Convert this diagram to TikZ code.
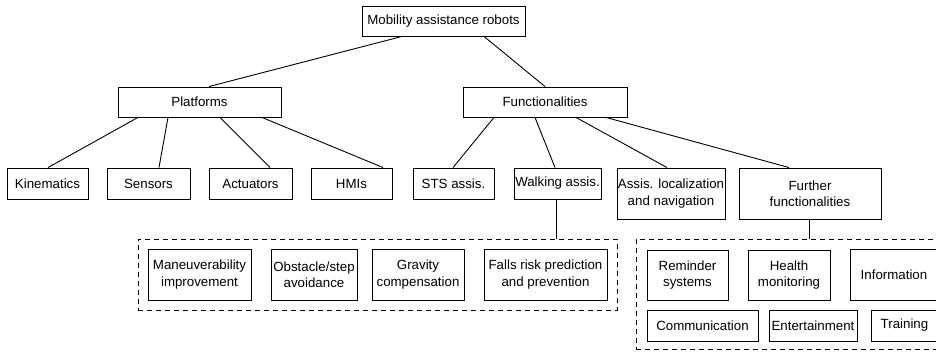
\documentclass[tikz,border=0pt]{standalone}
\usepackage{fontspec}
\setmainfont{Liberation Sans}
\begin{document}
\begin{tikzpicture}[x=1pt,y=-1pt,
  box/.style={draw, line width=0.9pt, inner sep=0pt, align=center,
    font=\fontsize{13.3}{16.5}\selectfont},
  group/.style={draw, dashed, dash pattern=on 5pt off 4pt, line width=0.9pt, inner sep=0pt},
  link/.style={line width=0.9pt}]
\useasboundingbox (0,0) rectangle (936,352);
\clip (0,0) rectangle (936,352);

% root and first level
\node[box, minimum width=163, minimum height=30] (mob) at (443.5,21) {Mobility assistance robots};
\node[box, minimum width=163, minimum height=30] (plat) at (199.5,102) {Platforms};
\node[box, minimum width=164, minimum height=30] (func) at (545,102) {Functionalities};

% platform components
\node[box, minimum width=81, minimum height=31] (kin) at (47.5,183.5) {Kinematics};
\node[box, minimum width=83, minimum height=31] (sen) at (148.5,183.5) {Sensors};
\node[box, minimum width=83, minimum height=31] (act) at (250.5,183.5) {Actuators};
\node[box, minimum width=81, minimum height=31] (hmi) at (351.5,183.5) {HMIs};

% functionalities
\node[box, minimum width=81, minimum height=31] (sts) at (453.5,183.5) {STS assis.};
\node[box, minimum width=87, minimum height=31] (walk) at (557.5,183.5) {Walking assis.};
\node[box, minimum width=108, minimum height=51] (loc) at (671,193.5) {Assis. localization\\and navigation};
\node[box, minimum width=142, minimum height=51] (fur) at (810,193.5) {Further\\functionalities};

% walking assistance group
\node[group, minimum width=479, minimum height=71] (grpA) at (377.5,274.5) {};
\node[box, minimum width=103, minimum height=51] (man) at (199.5,274.5) {Maneuverability\\improvement};
\node[box, minimum width=86, minimum height=51] (obs) at (314,274.5) {Obstacle/step\\avoidance};
\node[box, minimum width=92, minimum height=51] (grav) at (418,274.5) {Gravity\\compensation};
\node[box, minimum width=123, minimum height=51] (fall) at (545.5,274.5) {Falls risk prediction\\and prevention};

% further functionalities group
\node[group, minimum width=314, minimum height=110] (grpB) at (793,294) {};
\node[box, minimum width=81, minimum height=50] (rem) at (687.5,275) {Reminder\\systems};
\node[box, minimum width=82, minimum height=50] (hea) at (789,275) {Health\\monitoring};
\node[box, minimum width=88, minimum height=51] (inf) at (894,275) {Information};
\node[box, minimum width=111, minimum height=31] (com) at (702.5,325.5) {Communication};
\node[box, minimum width=88, minimum height=31] (ent) at (813,325.5) {Entertainment};
\node[box, minimum width=67, minimum height=31] (tra) at (904.5,325.5) {Training};

% connectors
\draw[link] ([xshift=-41.5pt]mob.south) -- ([xshift=9.5pt]plat.north);
\draw[link] ([xshift=40.5pt]mob.south) -- (func.north);
\draw[link] ([xshift=-61.5pt]plat.south) -- ([xshift=0.5pt]kin.north);
\draw[link] ([xshift=-31.5pt]plat.south) -- ([xshift=10.5pt]sen.north);
\draw[link] ([xshift=20.5pt]plat.south) -- ([xshift=19.5pt]act.north);
\draw[link] ([xshift=62.5pt]plat.south) -- ([xshift=31.5pt]hmi.north);
\draw[link] ([xshift=-51pt]func.south) -- ([xshift=-0.5pt]sts.north);
\draw[link] ([xshift=-10pt]func.south) -- ([xshift=-2.5pt]walk.north);
\draw[link] ([xshift=31pt]func.south) -- ([xshift=-4pt]loc.north);
\draw[link] ([xshift=61pt]func.south) -- ([xshift=-21pt]fur.north);
\draw[link] ([xshift=-1.5pt]walk.south) -- ([xshift=-1.5pt]walk.south |- grpA.north);
\draw[link] ([xshift=-1pt]fur.south) -- ([xshift=-1pt]fur.south |- grpB.north);
\end{tikzpicture}
\end{document}
